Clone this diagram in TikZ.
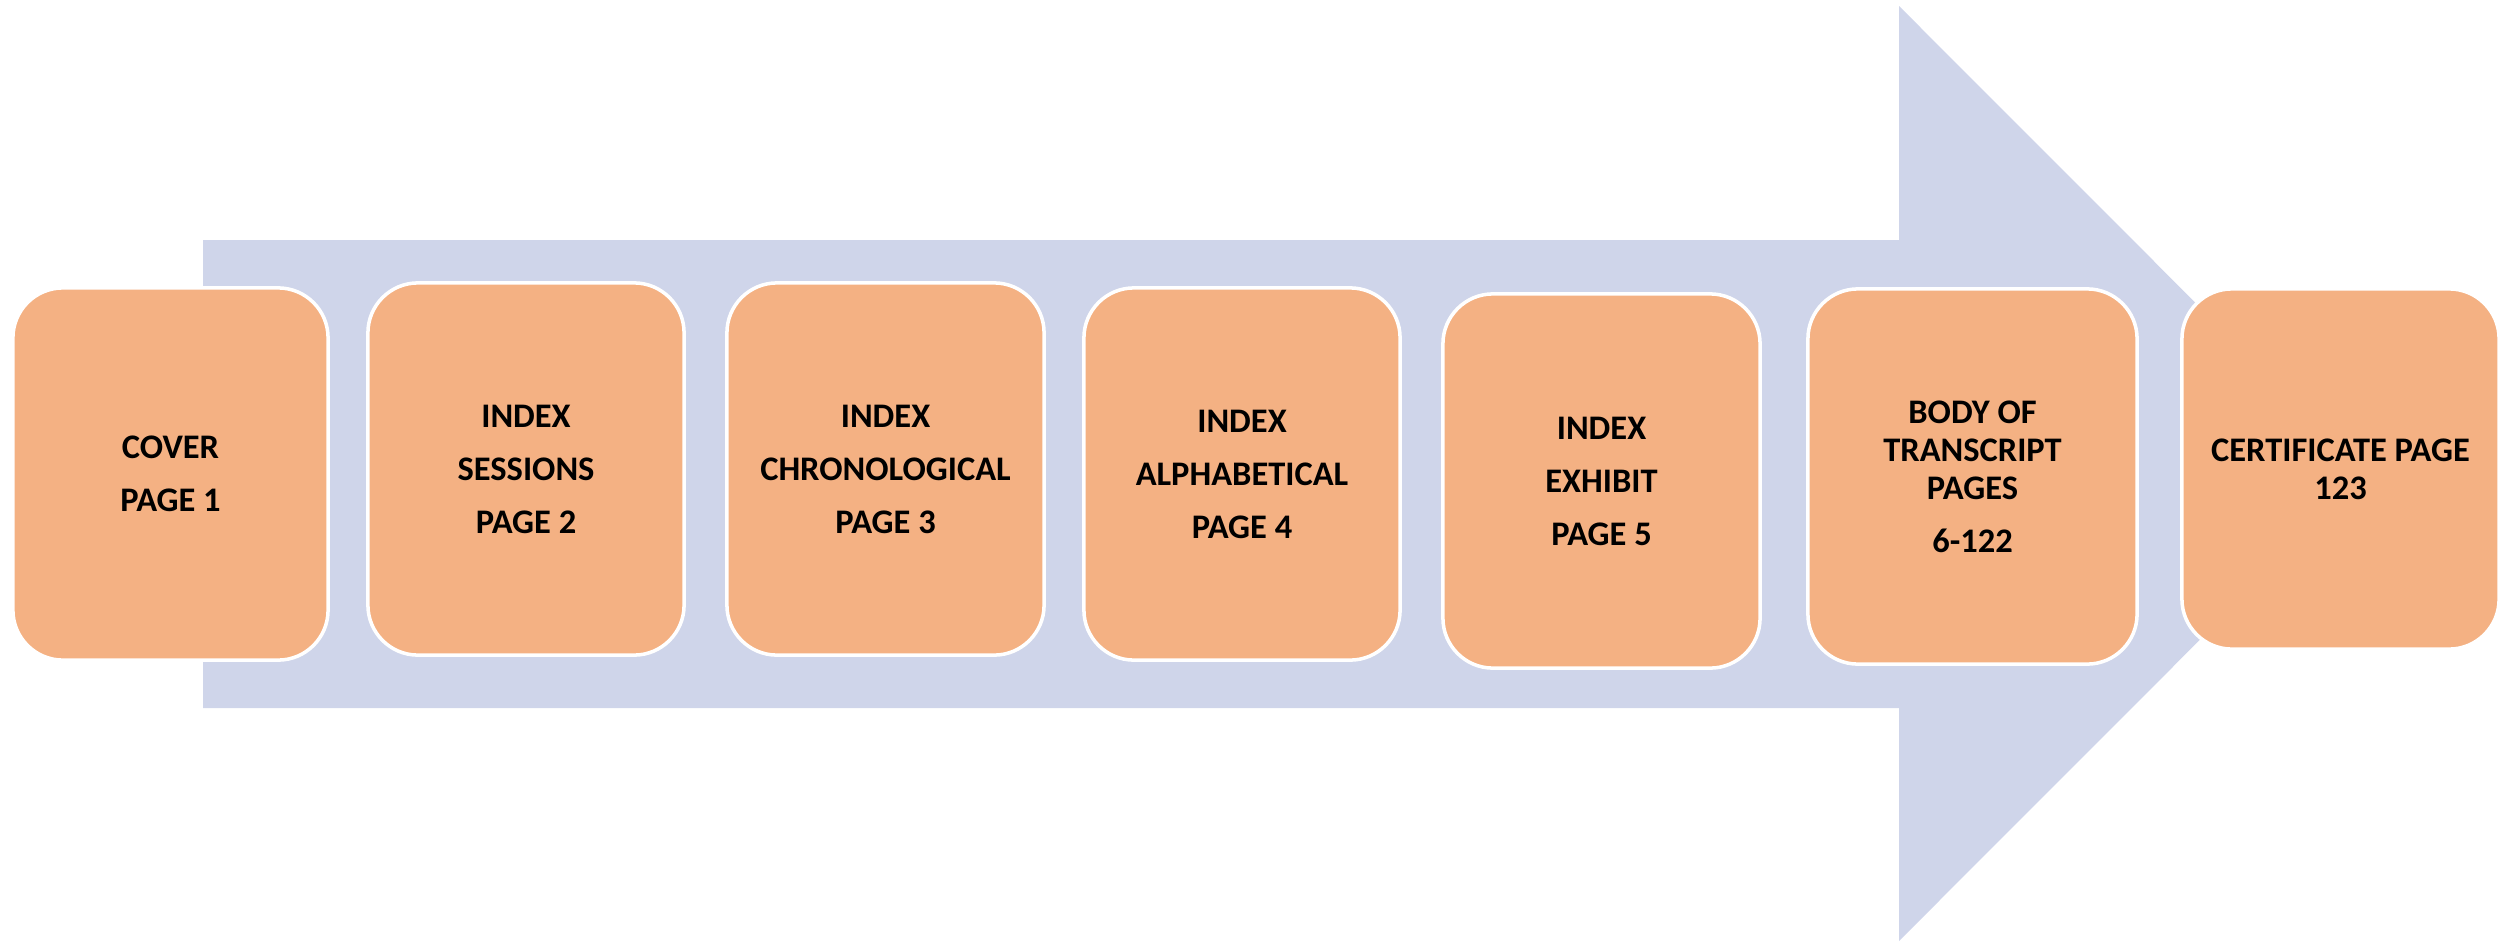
\documentclass[tikz,border=0pt]{standalone}
\usepackage{fontspec}
\setmainfont{Carlito}
\definecolor{arrowblue}{HTML}{CFD5EA}
\definecolor{boxorange}{HTML}{F4B183}
\tikzset{
  pbox/.style={draw=white, line width=1pt, fill=boxorange, rounded corners=0.5cm,
    inner sep=0pt, align=center, text=black,
    font=\fontsize{9.8pt}{10.8pt}\selectfont\bfseries},
}
\newcommand{\pgap}{\\[0.15cm]}
\begin{document}
\begin{tikzpicture}[x=0.01cm, y=-0.01cm]
\useasboundingbox (0,0) rectangle (2506,942);
% big arrow
\fill[arrowblue] (203,240) -- (1899,240) -- (1899,6) -- (2366,473.5) -- (1899,941) -- (1899,708) -- (203,708) -- cycle;
% boxes
\node[pbox, minimum width=3.15cm, minimum height=3.72cm] (cover) at (170.5,474) {COVER\pgap PAGE 1};
\node[pbox, minimum width=3.16cm, minimum height=3.72cm] (sessions) at (526,469) {INDEX\pgap SESSIONS\pgap PAGE 2};
\node[pbox, minimum width=3.17cm, minimum height=3.72cm] (chrono) at (885.5,469) {INDEX\pgap CHRONOLOGICAL\pgap PAGE 3};
\node[pbox, minimum width=3.16cm, minimum height=3.72cm] (alpha) at (1242,474) {INDEX\pgap ALPHABETICAL\pgap PAGE 4};
\node[pbox, minimum width=3.17cm, minimum height=3.74cm] (exhibit) at (1601.5,481) {INDEX\pgap EXHIBIT\pgap PAGE 5};
\node[pbox, minimum width=3.29cm, minimum height=3.75cm] (body) at (1972.5,476.5) {BODY OF\\ TRANSCRIPT\\ PAGES\pgap 6-122};
\node[pbox, minimum width=3.17cm, minimum height=3.60cm] (cert) at (2340.5,469) {CERTIFICATE PAGE\\ 123};
\end{tikzpicture}
\end{document}
